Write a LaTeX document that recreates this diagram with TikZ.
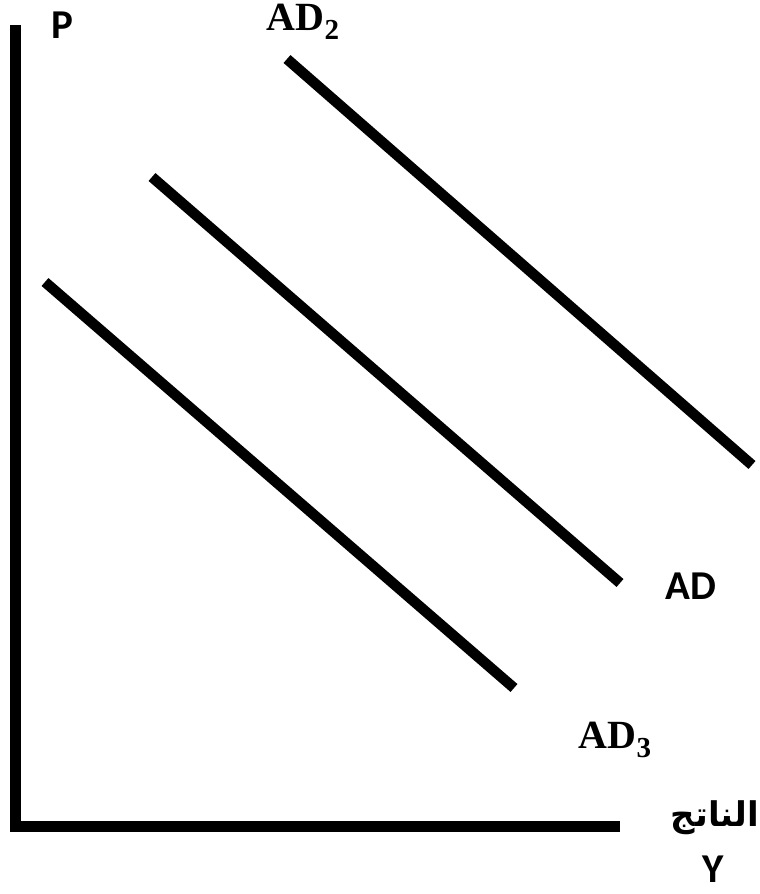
\documentclass[tikz,border=0pt]{standalone}
\usepackage{fontspec}
\setmainfont{Liberation Serif}
\newfontfamily\labelfont{Carlito}
\newfontfamily\arabicfont[Script=Arabic]{DejaVu Sans}
\TeXXeTstate=1
\usetikzlibrary{positioning}
\newcommand{\adsub}[1]{\textbf{AD\raisebox{-0.22em}{\fontsize{29}{29}\selectfont #1}}}

\begin{document}
\begin{tikzpicture}[
  x=1pt,y=-1pt,
  axis/.style={line width=11pt},
  curve/.style={line width=10.5pt},
  lbl/.style={inner sep=0pt,font=\labelfont\bfseries\fontsize{41}{46}\selectfont},
  serlbl/.style={inner sep=0pt,font=\fontsize{40}{46}\selectfont},
]
\useasboundingbox (0,0) rectangle (760,894);
% axes
\coordinate (ytop) at (15.5,25);
\coordinate (xend) at (620,826.5);
\draw[axis] (ytop) |- (xend);
% demand curves
\coordinate (ad2a) at (287,59);
\coordinate (ad2b) at (752,465);
\coordinate (ad1a) at (152,177);
\coordinate (ad1b) at (620,583);
\coordinate (ad3a) at (45,282);
\coordinate (ad3b) at (514,688);
\draw[curve] (ad2a) -- (ad2b);
\draw[curve] (ad1a) -- (ad1b);
\draw[curve] (ad3a) -- (ad3b);
% labels
\node[lbl] (p) at (62,25) {P};
\node[serlbl] (ad2) at (303,22) {\adsub{2}};
\node[lbl] (ad1) at (691,586) {AD};
\node[serlbl] (ad3) at (615,740) {\adsub{3}};
\node[inner sep=0pt,font=\arabicfont\bfseries\fontsize{34}{40}\selectfont] (out) at (715,818) {\beginR الناتج\endR};
\node[lbl] (y) at (713,869) {Y};
\end{tikzpicture}
\end{document}
